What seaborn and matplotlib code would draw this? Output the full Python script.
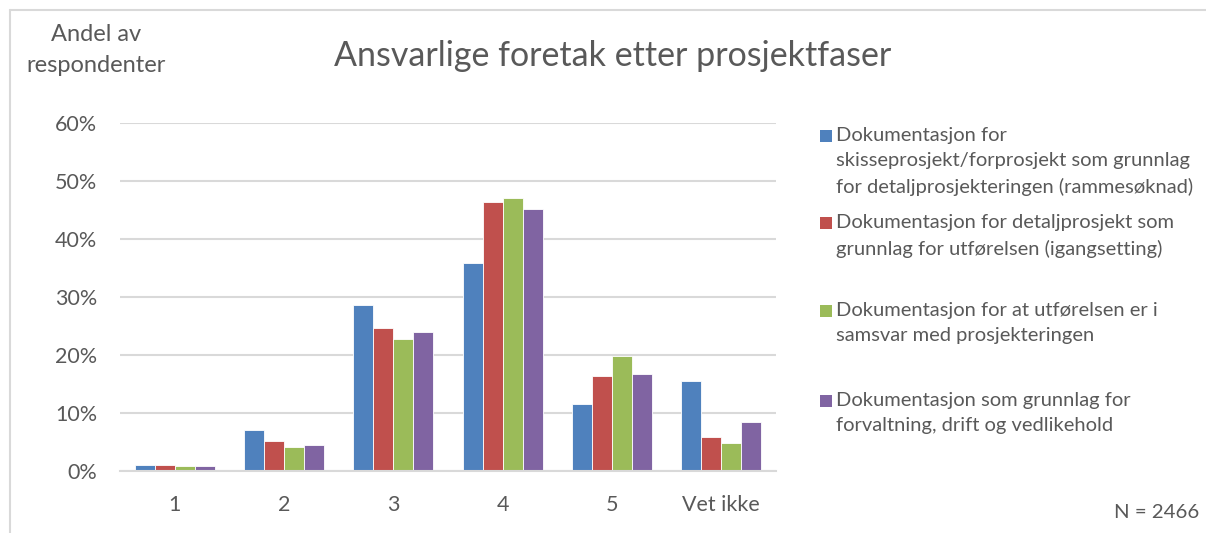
import matplotlib
matplotlib.use("Agg")
import matplotlib.pyplot as plt
import seaborn as sns
import pandas as pd
from matplotlib.patches import Rectangle

categories = ["1", "2", "3", "4", "5", "Vet ikke"]
series_names = [
    "Dokumentasjon for\nskisseprosjekt/forprosjekt som grunnlag\nfor detaljprosjekteringen (rammesøknad)",
    "Dokumentasjon for detaljprosjekt som\ngrunnlag for utførelsen (igangsetting)",
    "Dokumentasjon for at utførelsen er i\nsamsvar med prosjekteringen",
    "Dokumentasjon som grunnlag for\nforvaltning, drift og vedlikehold",
]
rammesoknad = [1.1, 7.0, 28.7, 35.8, 11.6, 15.5]
igangsetting = [1.1, 5.1, 24.7, 46.4, 16.4, 5.8]
samsvar = [0.9, 4.1, 22.8, 47.0, 19.9, 4.8]
forvaltning = [0.9, 4.5, 23.9, 45.1, 16.7, 8.5]
colors = ["#4F81BD", "#C0504D", "#9BBB59", "#8064A2"]

rows = []
for name, vals in zip(series_names, [rammesoknad, igangsetting, samsvar, forvaltning]):
    for c, v in zip(categories, vals):
        rows.append({"kategori": c, "serie": name, "andel": v / 100})
df = pd.DataFrame(rows)

sns.set_theme(style="white")
plt.rcParams["font.family"] = ["Lato", "DejaVu Sans"]
text_color = "#595959"

fig = plt.figure(figsize=(12.06, 5.33), dpi=100)
W, H = 1206, 533
ax = fig.add_axes([120 / W, 1 - 471 / H, (776 - 120) / W, (471 - 123) / H])

sns.barplot(data=df, x="kategori", y="andel", hue="serie", order=categories,
            hue_order=series_names, palette=colors, width=0.73, ax=ax,
            edgecolor="white", linewidth=0.6, legend=False, saturation=1)

ax.set_ylim(0, 0.6)
ax.set_xlim(-0.5, 5.5)
ax.set_yticks([0, 0.1, 0.2, 0.3, 0.4, 0.5, 0.6])
ax.set_yticklabels(["0%", "10%", "20%", "30%", "40%", "50%", "60%"])
ax.yaxis.grid(True, color="#D9D9D9", linewidth=1.5)
ax.set_axisbelow(True)
for s in ["top", "right", "left"]:
    ax.spines[s].set_visible(False)
ax.spines["bottom"].set_color("#D9D9D9")
ax.spines["bottom"].set_linewidth(1.5)
ax.tick_params(axis="both", length=0, labelsize=15.5, colors=text_color)
ax.tick_params(axis="x", pad=17)
ax.tick_params(axis="y", pad=16.5)
ax.set_xlabel("")
ax.set_ylabel("")

fig.text(613 / W, 1 - 56 / H, "Ansvarlige foretak etter prosjektfaser",
         ha="center", va="center", fontsize=24.5, color=text_color)
fig.text(96 / W, 1 - 50 / H, "Andel av\nrespondenter", ha="center", va="center",
         fontsize=17, color=text_color, linespacing=1.62)
fig.text(1199 / W, 1 - 512 / H, "N = 2466", ha="right", va="center",
         fontsize=14.7, color=text_color)

# Legend (Excel style: marker aligned with first line)
legend_tops = [136, 223, 311, 401]
for name, col, yt in zip(series_names, colors, legend_tops):
    fig.patches.append(Rectangle((820 / W, 1 - (yt + 6) / H), 12 / W, 12 / H,
                                 transform=fig.transFigure, facecolor=col,
                                 edgecolor="none"))
    fig.text(836 / W, 1 - (yt - 9) / H, name, ha="left", va="top",
             fontsize=14.5, color=text_color, linespacing=1.58)

# Chart border
fig.add_artist(plt.Line2D([10 / W, 10 / W], [0, 1 - 10 / H], transform=fig.transFigure,
                          color="#D9D9D9", linewidth=1.5))
fig.add_artist(plt.Line2D([10 / W, 1], [1 - 10 / H, 1 - 10 / H], transform=fig.transFigure,
                          color="#D9D9D9", linewidth=1.5))

fig.savefig("out.png", dpi=100, facecolor="white")
